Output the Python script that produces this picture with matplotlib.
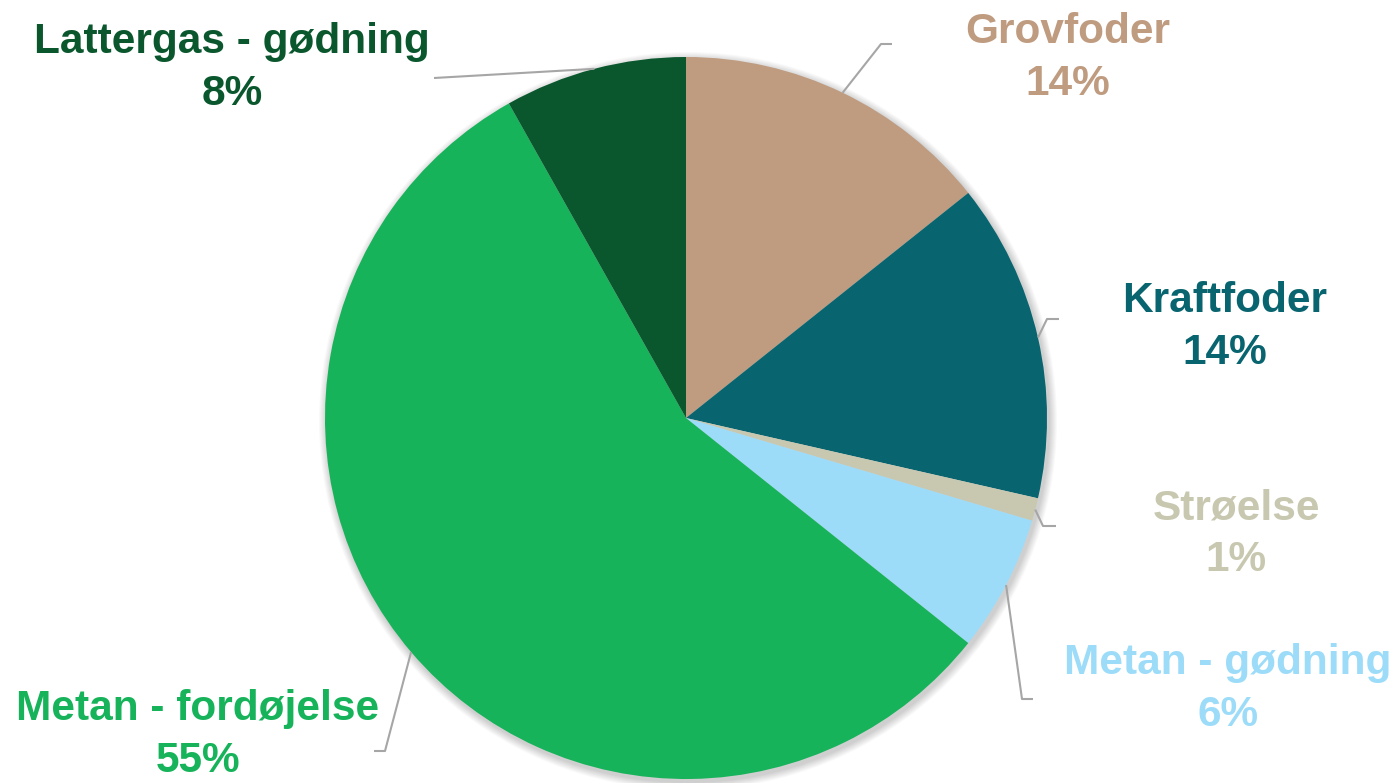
import matplotlib
matplotlib.use("Agg")
import numpy as np
from matplotlib import pyplot as plt
from matplotlib.patches import Circle

plt.rcParams['font.family'] = ['Liberation Sans', 'DejaVu Sans']

# emission sources and their share (%)
categories = ['Grovfoder', 'Kraftfoder', 'Strøelse', 'Metan - gødning',
              'Metan - fordøjelse', 'Lattergas - gødning']
shares = [14, 14, 1, 6, 55, 8]
colors = ['#BF9B80', '#08646F', '#C8C8B0', '#9DDCF9', '#16B35A', '#0A572E']

W, H = 1399, 783
CX, CY, R = 686, H - 418, 361

# label centre and leader elbow/end, in pixels from the top-left
label_pos = [(1068, 58), (1225, 327), (1236, 534), (1228, 689), (198, 735), (232, 68)]
leader_pts = [[(881, 44), (892, 44)],
              [(1047, 319), (1059, 319)],
              [(1043, 526), (1056, 526)],
              [(1022, 699), (1033, 699)],
              [(385, 751), (374, 751)],
              [(434, 78)]]


def px(x, y):
    return x, H - y


fig = plt.figure(figsize=(W / 100, H / 100), dpi=100)
ax = fig.add_axes([0, 0, 1, 1])

# soft shadow under the pie
for i in range(8):
    ax.add_patch(Circle((CX + 2, CY - 3), R + 1 + i * 1.0, color='black',
                        alpha=0.025, lw=0, zorder=0))

wedges, _ = ax.pie(shares, colors=colors, startangle=90, counterclock=False,
                   center=(CX, CY), radius=R, frame=True,
                   wedgeprops=dict(linewidth=0))
for w in wedges:
    w.set_zorder(1)

for w, name, val, col, (lx, ly), pts in zip(wedges, categories, shares, colors,
                                            label_pos, leader_pts):
    ang = np.deg2rad((w.theta1 + w.theta2) / 2)
    sx, sy = CX + R * np.cos(ang), CY + R * np.sin(ang)
    xs = [sx] + [p[0] for p in pts]
    ys = [sy] + [H - p[1] for p in pts]
    ax.plot(xs, ys, color='#A6A6A6', lw=1.5, zorder=2, solid_capstyle='butt')
    ax.text(*px(lx, ly), f"{name}\n{round(val)}%", color=col, fontsize=30.5,
            fontweight='bold', ha='center', va='center', linespacing=1.36,
            zorder=3)

ax.set_xlim(0, W)
ax.set_ylim(0, H)
ax.set_aspect('equal')
ax.axis('off')

fig.savefig('out.png', dpi=100)
